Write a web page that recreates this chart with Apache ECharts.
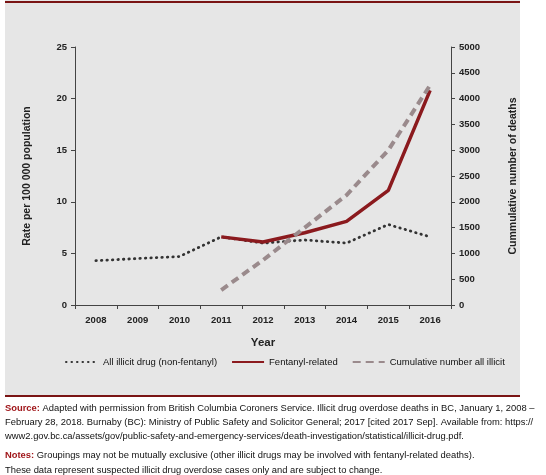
<!DOCTYPE html>
<html><head><meta charset="utf-8">
<script src="https://cdn.jsdelivr.net/npm/echarts@6/dist/echarts.min.js"></script>
<style>html,body{margin:0;padding:0;background:#fff;}#c{width:546px;height:475px;}</style>
</head><body><div id="c"></div>
<script>
const years = ['2008','2009','2010','2011','2012','2013','2014','2015','2016'];
const nonFentanyl = [4.3, 4.5, 4.7, 6.6, 6.0, 6.3, 6.0, 7.8, 6.6];
const fentanyl = [null, null, null, 6.6, 6.1, 7.0, 8.1, 11.1, 20.8];
const cumulative = [null, null, null, 290, 870, 1500, 2130, 3000, 4260];
const leftTicks = [0, 5, 10, 15, 20, 25];
const rightTicks = [0, 500, 1000, 1500, 2000, 2500, 3000, 3500, 4000, 4500, 5000];

const FAM = '"Liberation Sans", Arial, sans-serif';
const chart = echarts.init(document.getElementById('c'), null, {renderer: 'canvas'});
const lbl = {color: '#222', fontFamily: FAM, fontSize: 9.5, fontWeight: 'bold'};
const nameStyle = {color: '#222', fontFamily: FAM, fontSize: 10.5, fontWeight: 'bold'};
const axisCommon = {
  axisLine: {show: true, lineStyle: {color: '#444', width: 1}},
  axisTick: {show: true, lineStyle: {color: '#444'}, length: 4},
  splitLine: {show: false},
  axisLabel: lbl,
  nameTextStyle: nameStyle
};
const FOOT = '9.4px ' + FAM;
const FOOTB = 'bold 9.4px ' + FAM;
chart.setOption({
  backgroundColor: '#fff',
  animation: false,
  graphic: [
    {type: 'rect', shape: {x: 5, y: 0, width: 515, height: 396}, style: {fill: '#e6e6e6'}, z: -10},
    {type: 'rect', shape: {x: 5, y: 1, width: 515, height: 2}, style: {fill: '#7a1414'}, z: -9},
    {type: 'rect', shape: {x: 5, y: 395, width: 515, height: 2}, style: {fill: '#7a1414'}, z: -9},
    {type: 'text', left: 5, top: 401, style: {
      text: '{r|Source:} Adapted with permission from British Columbia Coroners Service. Illicit drug overdose deaths in BC, January 1, 2008 –\nFebruary 28, 2018. Burnaby (BC): Ministry of Public Safety and Solicitor General; 2017 [cited 2017 Sep]. Available from: https://\nwww2.gov.bc.ca/assets/gov/public-safety-and-emergency-services/death-investigation/statistical/illicit-drug.pdf.',
      font: FOOT, fill: '#111', lineHeight: 14,
      rich: {r: {fill: '#a0161a', font: FOOTB}}
    }},
    {type: 'text', left: 5, top: 448, style: {
      text: '{r|Notes:} Groupings may not be mutually exclusive (other illicit drugs may be involved with fentanyl-related deaths).\nThese data represent suspected illicit drug overdose cases only and are subject to change.',
      font: FOOT, fill: '#111', lineHeight: 15,
      rich: {r: {fill: '#a0161a', font: FOOTB}}
    }}
  ],
  grid: {left: 75, right: 95, top: 47, bottom: 170, containLabel: false},
  legend: {
    top: 352, left: 60, itemGap: 14, itemWidth: 32, itemHeight: 12,
    itemStyle: {opacity: 0},
    textStyle: {color: '#111', fontFamily: FAM, fontSize: 9.5, fontWeight: 'normal'},
    data: [
      {name: 'All illicit drug (non-fentanyl)'},
      {name: 'Fentanyl-related'},
      {name: 'Cumulative number all illicit'}
    ]
  },
  xAxis: Object.assign({}, axisCommon, {
    type: 'category', data: years, boundaryGap: true,
    name: 'Year', nameLocation: 'middle', nameGap: 32,
    nameTextStyle: Object.assign({}, nameStyle, {fontSize: 11.5}),
    axisLabel: Object.assign({}, lbl, {margin: 10})
  }),
  yAxis: [
    Object.assign({}, axisCommon, {
      type: 'value', min: 0, max: 25, interval: 5,
      name: 'Rate per 100 000 population', nameLocation: 'middle', nameGap: 42,
      axisLabel: Object.assign({}, lbl, {margin: 8})
    }),
    Object.assign({}, axisCommon, {
      type: 'value', min: 0, max: 5000, interval: 500, position: 'right',
      name: 'Cummulative number of deaths', nameLocation: 'middle', nameGap: 57, nameRotate: 90,
      axisLabel: Object.assign({}, lbl, {margin: 8, formatter: v => String(v)})
    })
  ],
  series: [
    {name: 'All illicit drug (non-fentanyl)', type: 'line', data: nonFentanyl, yAxisIndex: 0,
     symbol: 'none', color: '#333',
     lineStyle: {color: '#333', width: 2.8, type: [0.5, 5], cap: 'round'}},
    {name: 'Fentanyl-related', type: 'line', data: fentanyl, yAxisIndex: 0,
     symbol: 'none', color: '#8b1a1e',
     lineStyle: {color: '#8b1a1e', width: 3.5}},
    {name: 'Cumulative number all illicit', type: 'line', data: cumulative, yAxisIndex: 1,
     symbol: 'none', color: '#9a8a8c',
     lineStyle: {color: '#9a8a8c', width: 4, type: [8, 5]}}
  ]
});
</script></body></html>
